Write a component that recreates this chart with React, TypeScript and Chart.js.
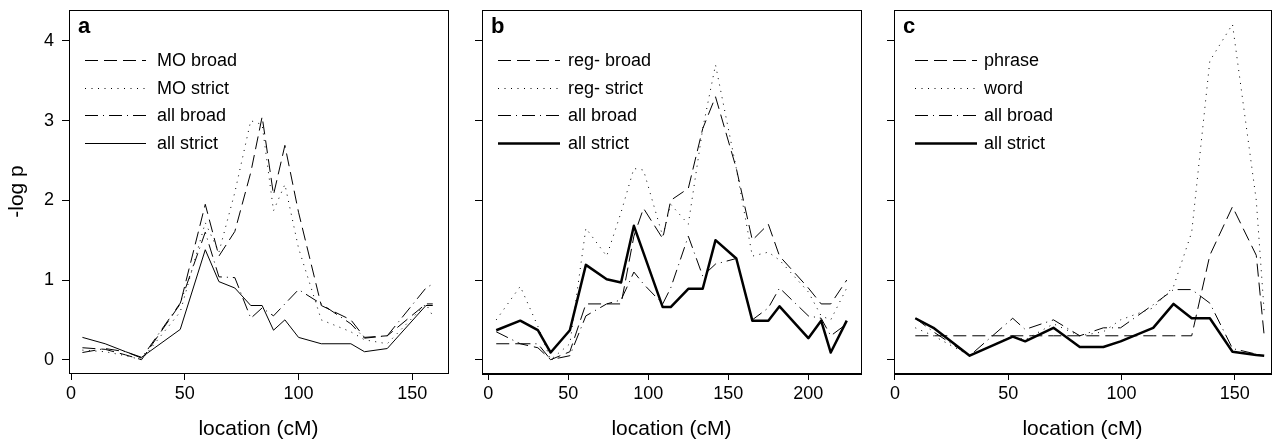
import React, { useEffect, useRef } from "react";
import { Chart, registerables } from "chart.js";

Chart.register(...registerables);
Chart.defaults.font.family = "'Liberation Sans', Arial, Helvetica, sans-serif";
Chart.defaults.color = "#000";

// ---------- data ----------
const yTicks = [0, 1, 2, 3, 4];
const xTicksA = [0, 50, 100, 150];
const xTicksB = [0, 50, 100, 150, 200];
const xTicksC = [0, 50, 100, 150];

const locA = [5, 15, 24, 31, 48, 59, 65, 72, 79, 84, 89, 94, 100, 110, 123, 129, 139, 156, 159];
const moBroadA = [0.15, 0.13, 0.06, 0.0, 0.7, 1.95, 1.3, 1.61, 2.35, 3.05, 2.07, 2.69, 1.85, 0.68, 0.5, 0.28, 0.3, 0.7, 0.7];
const moStrictA = [0.12, 0.1, 0.05, 0.0, 0.6, 1.72, 1.35, 2.1, 3.0, 2.95, 1.87, 2.2, 1.4, 0.5, 0.35, 0.25, 0.2, 0.7, 0.55];
const allBroadA = [0.09, 0.14, 0.1, 0.02, 0.71, 1.6, 1.04, 1.03, 0.52, 0.65, 0.55, 0.7, 0.88, 0.7, 0.45, 0.27, 0.3, 0.9, 0.95];
const allStrictA = [0.28, 0.2, 0.1, 0.03, 0.38, 1.38, 0.98, 0.9, 0.68, 0.68, 0.37, 0.5, 0.28, 0.2, 0.2, 0.1, 0.14, 0.68, 0.68];

const locB = [5, 20, 31, 39, 51, 61, 74, 83, 91, 97, 109, 114, 125, 134, 142, 155, 165, 175, 182, 200, 208, 214, 224];
const regBroadB = [0.2, 0.2, 0.15, 0.0, 0.1, 0.7, 0.7, 0.7, 1.55, 1.9, 1.52, 2.0, 2.15, 2.9, 3.3, 2.4, 1.5, 1.7, 1.3, 0.9, 0.7, 0.7, 1.0];
const regStrictB = [0.5, 0.92, 0.42, 0.0, 0.2, 1.65, 1.3, 1.85, 2.4, 2.38, 1.55, 1.95, 1.7, 2.9, 3.7, 2.4, 1.3, 1.35, 1.25, 0.85, 0.55, 0.5, 0.9];
const allBroadB = [0.35, 0.2, 0.2, 0.0, 0.05, 0.55, 0.7, 0.75, 1.1, 0.95, 0.7, 0.9, 1.55, 1.05, 1.2, 1.27, 0.5, 0.65, 0.9, 0.55, 0.52, 0.3, 0.45];
const allStrictB = [0.37, 0.49, 0.37, 0.09, 0.37, 1.19, 1.01, 0.97, 1.68, 1.34, 0.66, 0.66, 0.89, 0.89, 1.5, 1.27, 0.49, 0.49, 0.67, 0.27, 0.49, 0.09, 0.49];

const locC = [9, 17, 33, 52, 57.5, 70, 81.6, 92, 99.6, 114, 123, 131, 139, 149, 159.5, 163];
const phraseC = [0.3, 0.3, 0.3, 0.3, 0.3, 0.3, 0.3, 0.3, 0.3, 0.3, 0.3, 0.3, 1.31, 1.92, 1.31, 0.3];
const wordC = [0.4, 0.3, 0.05, 0.3, 0.25, 0.45, 0.3, 0.35, 0.5, 0.65, 0.92, 1.6, 3.75, 4.21, 2.0, 0.6];
const allBroadC = [0.52, 0.35, 0.05, 0.52, 0.38, 0.5, 0.3, 0.4, 0.4, 0.69, 0.88, 0.88, 0.71, 0.14, 0.07, 0.05];
const allStrictC = [0.52, 0.4, 0.05, 0.29, 0.23, 0.4, 0.16, 0.16, 0.23, 0.4, 0.7, 0.52, 0.52, 0.1, 0.06, 0.05];

// ---------- styles ----------
const DASH = [13, 6];
const DOT = [1, 5.5];
const DASHDOT = [13, 5, 1, 5];
const SOLID: number[] = [];

type Series = { label: string; y: number[]; dash: number[]; width: number };
type PanelDef = {
  letter: string;
  canvasLeft: number;
  canvasWidth: number;
  yAxisWidth: number;
  padRight: number;
  xMin: number;
  xMax: number;
  xTicks: number[];
  x: number[];
  series: Series[];
  showYLabels: boolean;
  thickBottom: boolean;
  legendX: [number, number, number];
};

const panels: PanelDef[] = [
  {
    letter: "a", canvasLeft: 0, canvasWidth: 465, yAxisWidth: 69, padRight: 17,
    xMin: -0.9, xMax: 165.7, xTicks: xTicksA, x: locA, showYLabels: true, thickBottom: false,
    legendX: [16, 77, 88],
    series: [
      { label: "MO broad", y: moBroadA, dash: DASH, width: 1 },
      { label: "MO strict", y: moStrictA, dash: DOT, width: 1 },
      { label: "all broad", y: allBroadA, dash: DASHDOT, width: 1 },
      { label: "all strict", y: allStrictA, dash: SOLID, width: 1 },
    ],
  },
  {
    letter: "b", canvasLeft: 465, canvasWidth: 413, yAxisWidth: 17, padRight: 17,
    xMin: -3.9, xMax: 232.9, xTicks: xTicksB, x: locB, showYLabels: false, thickBottom: true,
    legendX: [16, 78, 86],
    series: [
      { label: "reg- broad", y: regBroadB, dash: DASH, width: 1 },
      { label: "reg- strict", y: regStrictB, dash: DOT, width: 1 },
      { label: "all broad", y: allBroadB, dash: DASHDOT, width: 1 },
      { label: "all strict", y: allStrictB, dash: SOLID, width: 2.5 },
    ],
  },
  {
    letter: "c", canvasLeft: 878, canvasWidth: 396, yAxisWidth: 16, padRight: 3,
    xMin: -0.4, xMax: 166.0, xTicks: xTicksC, x: locC, showYLabels: false, thickBottom: true,
    legendX: [21, 83, 90],
    series: [
      { label: "phrase", y: phraseC, dash: DASH, width: 1 },
      { label: "word", y: wordC, dash: DOT, width: 1 },
      { label: "all broad", y: allBroadC, dash: DASHDOT, width: 1 },
      { label: "all strict", y: allStrictC, dash: SOLID, width: 2.5 },
    ],
  },
];

const Y_MIN = -0.167;
const Y_MAX = 4.389;
const FONT = "'Liberation Sans', Arial, Helvetica, sans-serif";

function makeChart(canvas: HTMLCanvasElement, p: PanelDef) {
  const decor = {
    id: "decor" + p.letter,
    afterDraw(chart: any) {
      const ctx = chart.ctx as CanvasRenderingContext2D;
      const { left, top, right, bottom } = chart.chartArea;
      const L = Math.round(left);
      const T = Math.round(top);
      const R = Math.round(right);
      const B = Math.round(bottom);
      ctx.save();
      ctx.setLineDash([]);
      ctx.fillStyle = "#000";
      // frame drawn as filled 1px rectangles
      ctx.fillRect(L, T, R - L + 1, 1);
      ctx.fillRect(L, T, 1, B - T + 1);
      ctx.fillRect(R, T, 1, B - T + 1);
      ctx.fillRect(L, B, R - L + 1, p.thickBottom ? 2 : 1);
      // panel letter
      ctx.font = `bold 22px ${FONT}`;
      ctx.textBaseline = "alphabetic";
      ctx.textAlign = "left";
      ctx.fillText(p.letter, left + 9, top + 23);
      // legend
      ctx.strokeStyle = "#000";
      ctx.font = `18px ${FONT}`;
      ctx.textBaseline = "middle";
      chart.data.datasets.forEach((ds: any, i: number) => {
        const y = Math.round(top + 50 + i * 27.5) + 0.5;
        ctx.lineWidth = ds.borderWidth;
        ctx.setLineDash(ds.borderDash || []);
        ctx.beginPath();
        ctx.moveTo(left + p.legendX[0], y);
        ctx.lineTo(left + p.legendX[1], y);
        ctx.stroke();
        ctx.setLineDash([]);
        ctx.fillText(ds.label, left + p.legendX[2], y + 1);
      });
      ctx.restore();
    },
  };

  const datasets = p.series.map((s) => ({
    label: s.label,
    data: p.x.map((x, i) => ({ x, y: s.y[i] })),
    borderColor: "#000",
    backgroundColor: "#000",
    borderWidth: s.width,
    borderDash: s.dash,
    borderJoinStyle: "round" as const,
    pointRadius: 0,
    fill: false,
    tension: 0,
  }));

  return new Chart(canvas, {
    type: "line",
    data: { datasets },
    options: {
      animation: false,
      responsive: false,
      events: [],
      layout: { padding: { left: 0, right: p.padRight, top: 10, bottom: 0 } },
      plugins: { legend: { display: false }, tooltip: { enabled: false } },
      scales: {
        x: {
          type: "linear",
          min: p.xMin,
          max: p.xMax,
          afterBuildTicks: (s: any) => {
            s.ticks = p.xTicks.map((v) => ({ value: v }));
          },
          afterFit: (s: any) => {
            s.height = 69;
            s.paddingLeft = 0;
            s.paddingRight = 0;
          },
          grid: { drawOnChartArea: false, drawTicks: true, tickLength: 7, color: "#000", lineWidth: 1 },
          border: { display: false },
          ticks: { color: "#000", font: { size: 18 }, padding: 3, maxRotation: 0, autoSkip: false, callback: (v: any) => String(v) },
          title: { display: true, text: "location (cM)", color: "#000", font: { size: 21 }, padding: { top: 0, bottom: 0 } },
        },
        y: {
          type: "linear",
          min: Y_MIN,
          max: Y_MAX,
          afterBuildTicks: (s: any) => {
            s.ticks = yTicks.map((v) => ({ value: v }));
          },
          afterFit: (s: any) => {
            s.width = p.yAxisWidth;
            s.paddingTop = 0;
            s.paddingBottom = 0;
          },
          grid: { drawOnChartArea: false, drawTicks: true, tickLength: 7, color: "#000", lineWidth: 1 },
          border: { display: false },
          ticks: {
            color: "#000",
            font: { size: 18 },
            padding: 8,
            callback: (v: any) => (p.showYLabels ? String(v) : ""),
          },
          title: {
            display: p.showYLabels,
            text: "-log p",
            color: "#000",
            font: { size: 21 },
            padding: { top: 5, bottom: 0 },
          },
        },
      },
    },
    plugins: [decor],
  } as any);
}

function Panel({ p }: { p: PanelDef }) {
  const ref = useRef<HTMLCanvasElement | null>(null);
  useEffect(() => {
    if (!ref.current) return;
    const chart = makeChart(ref.current, p);
    return () => chart.destroy();
  }, [p]);
  return (
    <canvas
      ref={ref}
      width={p.canvasWidth}
      height={442}
      style={{ position: "absolute", left: p.canvasLeft, top: 0, width: p.canvasWidth, height: 442 }}
    />
  );
}

export default function App() {
  return (
    <div style={{ position: "absolute", left: 0, top: 0, width: 1274, height: 442, background: "#fff", overflow: "hidden" }}>
      {panels.map((p) => (
        <Panel key={p.letter} p={p} />
      ))}
    </div>
  );
}
